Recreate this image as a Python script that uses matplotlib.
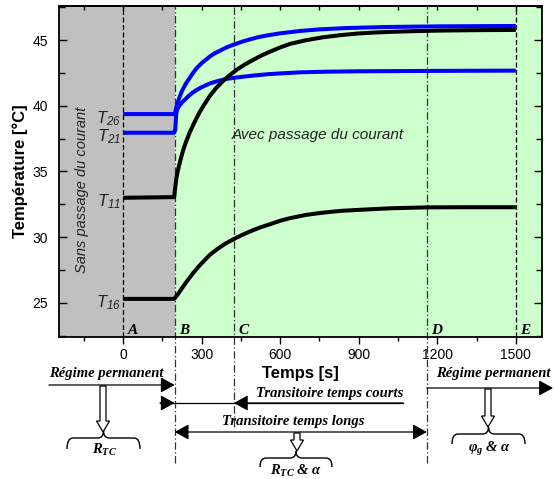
import matplotlib
matplotlib.use("Agg")
import matplotlib.pyplot as plt
from matplotlib.patches import FancyArrowPatch, FancyArrow, PathPatch
from matplotlib.path import Path

plt.rcParams['font.family'] = 'Liberation Sans'
plt.rcParams['mathtext.fontset'] = 'custom'
plt.rcParams['mathtext.it'] = 'Liberation Serif:italic:bold'
plt.rcParams['mathtext.rm'] = 'Liberation Serif:bold'
plt.rcParams['mathtext.sf'] = 'Liberation Sans:italic'

# ---- data (time in s, temperature in degC) ----
time_T26 = [0, 195, 198, 201, 204, 210, 216, 223, 229, 240, 250, 265, 280, 300, 331, 350, 370,
            395, 421, 460, 510, 550, 600, 676, 750, 850, 1000, 1200, 1500]
T26 = [39.37, 39.37, 39.45, 39.7, 39.95, 40.35, 40.7, 41.05, 41.3, 41.7, 42.0, 42.45, 42.85, 43.25,
       43.75, 44.0, 44.2, 44.45, 44.65, 44.92, 45.2, 45.36, 45.52, 45.7, 45.82, 45.92, 46.0, 46.05, 46.08]

time_T21 = [0, 195, 199, 201, 203, 206, 210, 216, 229, 240, 250, 265, 280, 300, 331, 360, 395,
            430, 472, 520, 561, 620, 676, 780, 900, 1200, 1500]
T21 = [37.95, 37.95, 38.2, 38.8, 39.4, 39.7, 39.85, 40.05, 40.35, 40.55, 40.75, 41.0, 41.2, 41.42,
       41.7, 41.88, 42.05, 42.15, 42.25, 42.35, 42.42, 42.49, 42.55, 42.6, 42.63, 42.66, 42.68]

time_T11 = [0, 195, 198, 201, 204, 210, 216, 222, 229, 240, 255, 270, 293, 310, 331, 355, 382, 405,
            434, 465, 497, 530, 561, 600, 638, 700, 764, 830, 893, 960, 1021, 1100, 1213, 1350, 1500]
T11 = [33.0, 33.05, 33.6, 34.1, 34.55, 35.15, 35.65, 36.1, 36.6, 37.25, 38.0, 38.65, 39.55, 40.1,
       40.75, 41.35, 41.9, 42.3, 42.75, 43.15, 43.5, 43.85, 44.12, 44.45, 44.72, 45.0, 45.22, 45.38,
       45.5, 45.58, 45.63, 45.68, 45.73, 45.76, 45.78]

time_T16 = [0, 195, 200, 207, 216, 230, 248, 267, 290, 310, 331, 360, 390, 421, 460, 490, 523, 560,
            600, 638, 700, 760, 829, 900, 1021, 1162, 1300, 1500]
T16 = [25.3, 25.3, 25.42, 25.6, 25.86, 26.27, 26.76, 27.26, 27.8, 28.22, 28.65, 29.1, 29.5, 29.84,
       30.22, 30.48, 30.74, 30.98, 31.25, 31.45, 31.7, 31.86, 32.0, 32.08, 32.2, 32.27, 32.28, 32.28]

series = [("26", time_T26, T26, "#0000ff"),
          ("21", time_T21, T21, "#0000ff"),
          ("11", time_T11, T11, "black"),
          ("16", time_T16, T16, "black")]

# instants A..E
marks = ["A", "B", "C", "D", "E"]
mark_t = [0, 197, 423, 1160, 1500]

xticks = [0, 300, 600, 900, 1200, 1500]
yticks = [25, 30, 35, 40, 45]
xlim = (-245, 1600)
ylim = (22.4, 47.6)

W, H = 554, 479
fig = plt.figure(figsize=(W / 100, H / 100), dpi=100)
ax = fig.add_axes([59 / W, 1 - 337 / H, (542 - 59) / W, (337 - 6) / H])

ax.axvspan(xlim[0], mark_t[1], color="#c0c0c0", lw=0, zorder=0)
ax.axvspan(mark_t[1], xlim[1], color="#ccffcc", lw=0, zorder=0)

for name, t, v, c in series:
    ax.plot(t, v, color=c, lw=2.9, solid_capstyle="butt", solid_joinstyle="round", zorder=3)
    ax.annotate(r"$\mathsf{T_{%s}}$" % name, xy=(t[0], v[0]), xytext=(-1, -3),
                textcoords="offset points", ha="right", va="center",
                fontsize=12, color="#222222")

# vertical markers
ext = {"A": 0, "B": -0.381, "C": -0.272, "D": -0.381, "E": 0}
for m, t in zip(marks, mark_t):
    if m in ("A", "E"):
        ls, col = (0, (4, 2)), "black"
    else:
        ls, col = (0, (6, 2, 1, 2)), "#333333"
    ax.axvline(t, ymin=ext[m], ymax=1, color=col, lw=0.9, ls=ls, clip_on=False, zorder=1)
    ax.annotate(m, xy=(t, 0), xycoords=("data", "axes fraction"), xytext=(3, 2),
                textcoords="offset points", ha="left", va="baseline",
                fontsize=11, family="Liberation Serif", weight="bold", style="italic")

ax.set_xticks(xticks)
ax.set_yticks(yticks)
ax.set_xticks([x + 150 for x in [-300] + xticks], minor=True)
ax.set_yticks([y + 2.5 for y in [20] + yticks], minor=True)
ax.set_xlim(*xlim)
ax.set_ylim(*ylim)
ax.tick_params(axis="x", which="major", direction="out", length=5, width=1, labelsize=10, pad=3)
ax.tick_params(axis="x", which="minor", direction="out", length=3, width=1)
ax.tick_params(axis="y", which="major", direction="in", length=6, width=1, labelsize=10, pad=8)
ax.tick_params(axis="y", which="minor", direction="in", length=4, width=1)
ax.tick_params(axis="y", which="both", right=True)
for s in ax.spines.values():
    s.set_linewidth(1.3)

top = ax.secondary_xaxis("top")
top.set_xticks([x + 150 for x in [-300] + xticks] + xticks)
top.tick_params(direction="in", length=3, width=1, labeltop=False)
top.spines["top"].set_linewidth(1.3)

ax.set_xlabel("Temps [s]", fontsize=12, weight="bold", va="center")
ax.xaxis.set_label_coords(0.5, -0.109)
ax.set_ylabel("Température [°C]", fontsize=12, weight="bold", va="center")
ax.yaxis.set_label_coords(-0.081, 0.5)

ax.text(0.536, 0.61, "Avec passage du courant", transform=ax.transAxes, ha="center",
        va="center", fontsize=11, style="italic", color="#222222")
ax.text(0.048, 0.444, "Sans passage du courant", transform=ax.transAxes, ha="center",
        va="center", fontsize=10.5, style="italic", rotation=90, color="#222222")

# ---- annotation scheme below the axes (pixel coordinates, y downwards) ----
ov = fig.add_axes([0, 0, 1, 1], zorder=5)
ov.set_xlim(0, W)
ov.set_ylim(H, 0)
ov.axis("off")
ov.patch.set_alpha(0)

xB, xC, xD = [ax.transData.transform((t, 0))[0] for t in mark_t[1:4]]
serif = dict(family="Liberation Serif", weight="bold", style="italic", fontsize=10.5)


def arrow(x0, y0, x1, y1, style="-|>"):
    ov.add_patch(FancyArrowPatch((x0, y0), (x1, y1), arrowstyle=style + ",head_length=1.0,head_width=0.55",
                                 mutation_scale=8.6, lw=0.9, color="black", shrinkA=0, shrinkB=0))


def hollow(x, y0, y1):
    ov.add_patch(FancyArrow(x, y0, 0, y1 - y0, width=6, head_width=13, head_length=11,
                            length_includes_head=True, fc="white", ec="black", lw=0.9))


def brace(x0, x1, ytip, ym, yend):
    xc = (x0 + x1) / 2
    r = 6
    verts = [(x0, yend), (x0, ym), (x0 + r, ym), (xc - r, ym), (xc, ym), (xc, ytip),
             (xc, ym), (xc + r, ym), (x1 - r, ym), (x1, ym), (x1, yend)]
    codes = [Path.MOVETO, Path.CURVE3, Path.CURVE3, Path.LINETO, Path.CURVE3, Path.CURVE3,
             Path.CURVE3, Path.CURVE3, Path.LINETO, Path.CURVE3, Path.CURVE3]
    ov.add_patch(PathPatch(Path(verts, codes), fc="none", ec="black", lw=1.0))


# left: steady state before current
ov.text(106, 373, "Régime permanent", ha="center", va="center", **serif)
arrow(49, 385, xB, 385)
hollow(103, 386, 432)
brace(67, 140, 431, 438, 449)
ov.text(104, 450, r"$R_{TC}$", ha="center", va="center", **serif)

# short-time transient
ov.text(330, 393, "Transitoire temps courts", ha="center", va="center", **serif)
ov.plot([160, 403], [403, 403], color="black", lw=0.9)
arrow(160, 403, xB, 403)
arrow(403, 403, xC, 403)

# long-time transient
ov.text(293, 421, "Transitoire temps longs", ha="center", va="center", **serif)
arrow(xB, 432, xD, 432, style="<|-|>")
hollow(297, 433, 451)
brace(260, 332, 451, 458, 467)
ov.text(296, 471, r"$R_{TC}$ & $\alpha$", ha="center", va="center", **serif)

# right: steady state with current
ov.text(493, 373, "Régime permanent", ha="center", va="center", **serif)
arrow(xD, 388, 553, 388)
hollow(488, 389, 427)
brace(452, 525, 427, 434, 444)
ov.text(489, 449, r"$\varphi_g$ & $\alpha$", ha="center", va="center", **serif)

fig.savefig("out.png", dpi=100)
